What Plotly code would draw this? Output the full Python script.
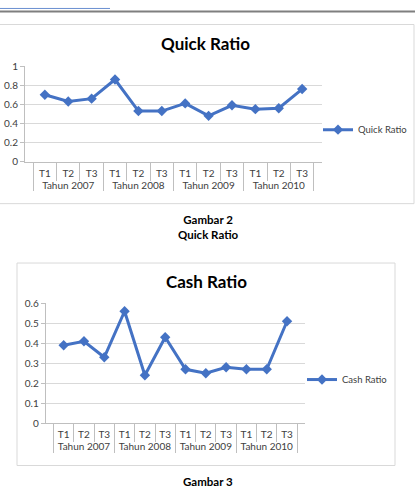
import plotly.graph_objects as go

years = ["Tahun 2007", "Tahun 2008", "Tahun 2009", "Tahun 2010"]
quarters = ["T1", "T2", "T3"]
quick_ratio = [0.70, 0.63, 0.66, 0.86, 0.53, 0.53, 0.61, 0.48, 0.59, 0.55, 0.56, 0.76]
cash_ratio = [0.39, 0.41, 0.33, 0.56, 0.24, 0.43, 0.27, 0.25, 0.28, 0.27, 0.27, 0.51]

x_outer = [y for y in years for q in quarters]
x_inner = [q for y in years for q in quarters]

W, H = 415, 490
def px(x):
    return x / W
def py(y):
    return 1 - y / H

FONT = "Lato, Open Sans, sans-serif"
BLUE = "#4472C4"
GRID = "#D9D9D9"
AXIS = "#BFBFBF"
TXT = "#404040"

fig = go.Figure()
fig.add_trace(go.Scatter(
    x=[x_outer, x_inner], y=quick_ratio, mode="lines+markers", name="Quick Ratio",
    line=dict(color=BLUE, width=3), marker=dict(symbol="diamond", size=8, color=BLUE),
    xaxis="x", yaxis="y", legend="legend"))
fig.add_trace(go.Scatter(
    x=[x_outer, x_inner], y=cash_ratio, mode="lines+markers", name="Cash Ratio",
    line=dict(color=BLUE, width=3), marker=dict(symbol="diamond", size=8, color=BLUE),
    xaxis="x2", yaxis="y2", legend="legend2"))

xcommon = dict(type="multicategory", showgrid=False, showline=True, linecolor=AXIS,
               ticks="outside", tickson="boundaries", ticklen=18, tickcolor=AXIS,
               showdividers=True, dividercolor=AXIS, dividerwidth=1, tickangle=0,
               ticklabelstandoff=2,
               tickfont=dict(family=FONT, size=10, color=TXT), fixedrange=True)
ycommon = dict(showgrid=True, gridcolor=GRID, showline=True, linecolor=AXIS,
               ticks="outside", ticklen=4, tickcolor=AXIS, zeroline=False,
               tickfont=dict(family=FONT, size=10, color=TXT), fixedrange=True)

fig.update_layout(
    width=W, height=H, margin=dict(l=0, r=0, t=0, b=0),
    paper_bgcolor="white", plot_bgcolor="white",
    xaxis=dict(domain=[px(25), px(322)], anchor="y", **xcommon),
    yaxis=dict(domain=[py(159), py(60.7)], anchor="x", range=[0, 1],
               tickvals=[0, 0.2, 0.4, 0.6, 0.8, 1], ticktext=["0", "0.2", "0.4", "0.6", "0.8", "1"], **ycommon),
    xaxis2=dict(domain=[px(45.7), px(305)], anchor="y2", **xcommon),
    yaxis2=dict(domain=[py(427.7), py(304.3)], anchor="x2", range=[0, 0.6], dtick=0.1, **ycommon),
    legend=dict(x=px(318), y=py(126), xanchor="left", yanchor="middle",
                font=dict(family=FONT, size=9.5, color=TXT), bgcolor="rgba(0,0,0,0)"),
    legend2=dict(x=px(302), y=py(382.7), xanchor="left", yanchor="middle",
                 font=dict(family=FONT, size=9.5, color=TXT), bgcolor="rgba(0,0,0,0)"),
    showlegend=True,
)

shapes = [
    dict(type="line", xref="paper", yref="paper", x0=0, x1=1, y0=py(4.5), y1=py(4.5),
         line=dict(color="#7F7F7F", width=2)),
    dict(type="line", xref="paper", yref="paper", x0=0, x1=px(110), y0=py(1.5), y1=py(1.5),
         line=dict(color="#6A8FD0", width=1)),
    dict(type="rect", xref="paper", yref="paper", x0=px(-1), x1=px(414), y0=py(202), y1=py(18),
         line=dict(color=GRID, width=1)),
    dict(type="rect", xref="paper", yref="paper", x0=px(17), x1=px(395), y0=py(471), y1=py(263),
         line=dict(color=GRID, width=1)),
]
fig.update_layout(shapes=shapes)

anns = [
    dict(text="<b>Quick Ratio</b>", x=px(205), y=py(38), font=dict(family=FONT, size=17, color="black")),
    dict(text="<b>Cash Ratio</b>", x=px(206), y=py(282), font=dict(family=FONT, size=17, color="black")),
    dict(text="<b>Gambar 2</b><br><b>Quick Ratio</b>", x=px(208), y=py(226.3),
         font=dict(family=FONT, size=11.5, color="black")),
    dict(text="<b>Gambar 3</b>", x=px(208), y=py(487), font=dict(family=FONT, size=11.5, color="black")),
]
for a in anns:
    a.update(xref="paper", yref="paper", showarrow=False, xanchor="center", yanchor="middle")
fig.update_layout(annotations=anns)

fig.write_html("out.html")
